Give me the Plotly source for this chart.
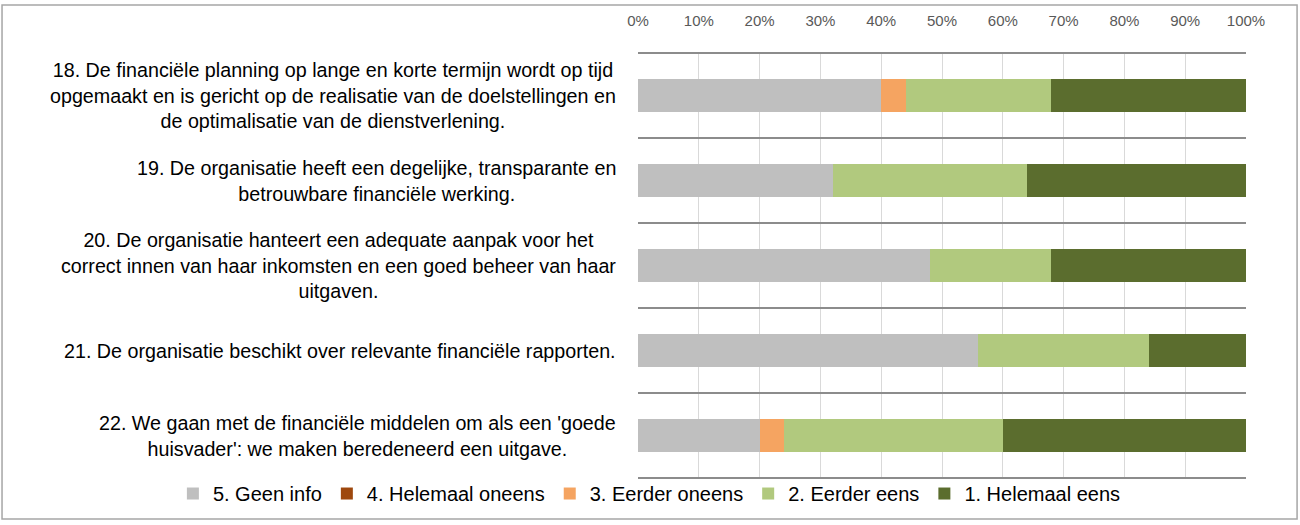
import plotly.graph_objects as go

categories = [
    "18. De financiële planning op lange en korte termijn wordt op tijd<br>opgemaakt en is gericht op de realisatie van de doelstellingen en<br>de optimalisatie van de dienstverlening.",
    "19. De organisatie heeft een degelijke, transparante en<br>betrouwbare financiële werking.",
    "20. De organisatie hanteert een adequate aanpak voor het<br>correct innen van haar inkomsten en een goed beheer van haar<br>uitgaven.",
    "21. De organisatie beschikt over relevante financiële rapporten.",
    "22. We gaan met de financiële middelen om als een 'goede<br>huisvader': we maken beredeneerd een uitgave.",
]
series_names = ["5. Geen info", "4. Helemaal oneens", "3. Eerder oneens", "2. Eerder eens", "1. Helemaal eens"]
geen_info = [0.40, 0.32, 0.48, 0.56, 0.20]
helemaal_oneens = [0.0, 0.0, 0.0, 0.0, 0.0]
eerder_oneens = [0.04, 0.0, 0.0, 0.0, 0.04]
eerder_eens = [0.24, 0.32, 0.20, 0.28, 0.36]
helemaal_eens = [0.32, 0.36, 0.32, 0.16, 0.40]
tick_vals = [0, 0.1, 0.2, 0.3, 0.4, 0.5, 0.6, 0.7, 0.8, 0.9, 1.0]
tick_text = ["0%", "10%", "20%", "30%", "40%", "50%", "60%", "70%", "80%", "90%", "100%"]

series_values = [geen_info, helemaal_oneens, eerder_oneens, eerder_eens, helemaal_eens]
colors = ["#BFBFBF", "#9E480E", "#F5A461", "#B1C97E", "#5B6D2E"]

FONT = "Arial, Liberation Sans, sans-serif"

fig = go.Figure()
for name, vals, col in zip(series_names, series_values, colors):
    fig.add_trace(go.Bar(
        y=categories, x=vals, name=name, orientation="h",
        marker=dict(color=col, line=dict(width=0)),
    ))

shapes = []
n = len(categories)
for i in range(n + 1):
    shapes.append(dict(type="line", xref="paper", yref="y", x0=0, x1=1,
                       y0=i - 0.5, y1=i - 0.5,
                       line=dict(color="#8C8C8C", width=2), layer="above"))
# outer chart frame
shapes.append(dict(type="rect", xref="paper", yref="paper",
                   x0=-1.046, x1=1.084, y0=-0.0938, y1=1.11,
                   line=dict(color="#A6A6A6", width=1.5)))

annotations = []
for cat in categories:
    annotations.append(dict(
        xref="paper", yref="y", x=-0.033, y=cat, text=cat,
        xanchor="right", yanchor="middle", align="center", showarrow=False,
        font=dict(size=19.7, color="#000000", family=FONT),
    ))

fig.update_layout(
    barmode="stack",
    bargap=0.61,
    width=1300, height=525,
    margin=dict(l=638, r=54, t=49, b=44),
    paper_bgcolor="white", plot_bgcolor="white",
    font=dict(family=FONT, color="#000000"),
    shapes=shapes,
    annotations=annotations,
    showlegend=True,
    legend=dict(orientation="h", traceorder="normal",
                xref="paper", x=-0.765, xanchor="left",
                yref="paper", y=-0.034, yanchor="middle",
                font=dict(size=20, color="#000000", family=FONT),
                itemwidth=30, tracegroupgap=0, bgcolor="rgba(0,0,0,0)"),
    xaxis=dict(side="top", range=[0, 1], tickvals=tick_vals, ticktext=tick_text,
               showgrid=True, gridcolor="#D9D9D9", gridwidth=1,
               zeroline=False, showline=False,
               ticks="outside", ticklen=19, tickcolor="rgba(0,0,0,0)",
               tickfont=dict(size=15, color="#595959", family=FONT)),
    yaxis=dict(autorange="reversed", showgrid=False, zeroline=False, showline=False,
               showticklabels=False, ticks=""),
)

fig.write_html("out.html",
               config={"displayModeBar": False},
               post_script="document.body.style.margin='0px';document.body.style.overflow='hidden';")
